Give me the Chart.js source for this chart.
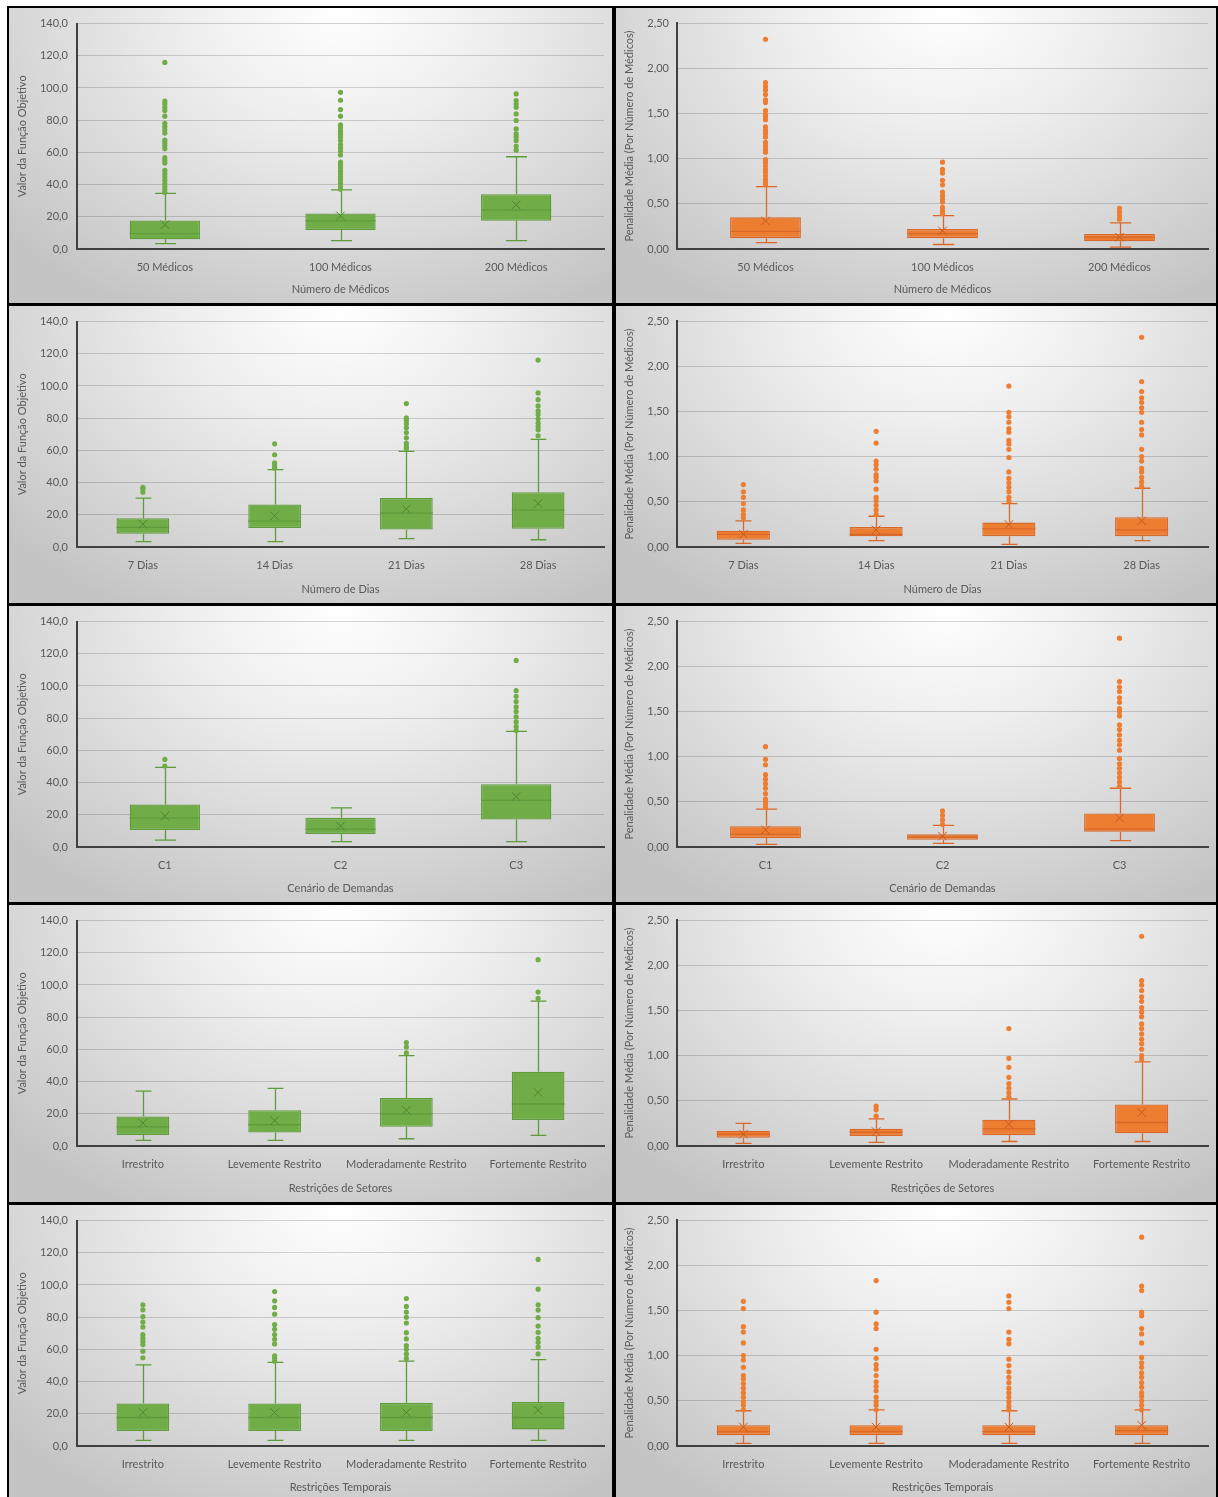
<!DOCTYPE html>
<html>
<head>
<meta charset="utf-8">
<script src="https://cdn.jsdelivr.net/npm/chart.js@4.4.0/dist/chart.umd.min.js"></script>
<style>
  html, body { margin: 0; background: #fff; overflow: hidden; }
  #frame { position: absolute; left: 7px; top: 6px; width: 1211px; height: 1495px; background: #000; }
  .panel {
    position: absolute;
    background: radial-gradient(ellipse 75% 115% at 55% 0%, #ffffff 0%, #eeeeee 35%, #d8d8d8 70%, #c4c4c4 100%);
  }
  .panel canvas { display: block; }
</style>
</head>
<body>
<div id="frame"></div>
<script>
// categorias
const catMedicos = ["50 Médicos", "100 Médicos", "200 Médicos"];
const catDias = ["7 Dias", "14 Dias", "21 Dias", "28 Dias"];
const catDemandas = ["C1", "C2", "C3"];
const catRestricoes = ["Irrestrito", "Levemente Restrito", "Moderadamente Restrito", "Fortemente Restrito"];

// eixos
const ticksFO = [0, 20, 40, 60, 80, 100, 120, 140];
const ticksPen = [0, 0.5, 1, 1.5, 2, 2.5];

// [mín, Q1, mediana, Q3, máx, média]
const boxFoMedicos = [[3.3, 6.0, 9.5, 17.7, 34.6, 15.1], [5.2, 11.8, 17.5, 22.1, 36.7, 20.6], [5.2, 17.5, 24.1, 34.0, 57.3, 27.4]];
const outFoMedicos = [
    [115.9, 91.8, 90.1, 88.0, 86.0, 82.5, 78.1, 76.1, 74.0, 72.0, 67.6, 66.0, 64.3, 62.3, 56.7, 55.1, 53.4, 48.9, 46.8, 44.7, 42.7, 40.6, 38.6, 36.9, 35.1],
    [97.3, 92.4, 86.6, 82.5, 77.1, 75.3, 73.2, 71.3, 69.5, 67.4, 64.9, 62.9, 60.8, 58.4, 54.0, 52.2, 50.5, 48.5, 46.8, 44.9, 42.9, 40.8, 38.8, 37.1],
    [96.3, 92.2, 90.1, 88.0, 83.9, 79.8, 74.6, 71.5, 69.5, 67.4, 63.9, 61.4]
];
const boxPenMedicos = [[0.07, 0.12, 0.195, 0.35, 0.69, 0.31], [0.05, 0.12, 0.17, 0.22, 0.37, 0.20], [0.02, 0.085, 0.13, 0.166, 0.29, 0.13]];
const outPenMedicos = [
    [2.32, 1.84, 1.80, 1.76, 1.71, 1.65, 1.62, 1.53, 1.49, 1.46, 1.43, 1.35, 1.31, 1.28, 1.24, 1.18, 1.14, 1.10, 1.07, 0.99, 0.96, 0.92, 0.88, 0.85, 0.81, 0.77, 0.74, 0.71],
    [0.96, 0.88, 0.84, 0.76, 0.71, 0.63, 0.59, 0.55, 0.52, 0.46, 0.42, 0.39],
    [0.45, 0.41, 0.37, 0.33]
];

const boxFoDias = [[3.3, 8.2, 12.2, 17.9, 30.3, 14.2], [3.3, 11.8, 16.1, 26.4, 48.0, 19.4], [5.2, 10.9, 21.0, 30.5, 59.4, 23.7], [4.5, 11.3, 22.9, 34.0, 66.8, 27.0]];
const outFoDias = [
    [37.1, 35.9, 34.0],
    [64.1, 57.3, 52.2, 50.5, 48.9],
    [89.1, 80.2, 78.6, 76.5, 74.0, 71.1, 67.8, 64.5, 62.5, 61.2],
    [116.1, 95.7, 91.5, 87.6, 84.5, 82.3, 79.6, 76.9, 74.8, 72.8, 69.1]
];
const boxPenDias = [[0.04, 0.08, 0.14, 0.18, 0.29, 0.14], [0.07, 0.12, 0.14, 0.22, 0.34, 0.19], [0.03, 0.12, 0.20, 0.27, 0.48, 0.25], [0.07, 0.12, 0.19, 0.33, 0.65, 0.29]];
const outPenDias = [
    [0.69, 0.61, 0.55, 0.48, 0.41, 0.36, 0.32],
    [1.28, 1.15, 0.95, 0.91, 0.86, 0.80, 0.77, 0.73, 0.64, 0.55, 0.51, 0.46, 0.41, 0.36],
    [1.78, 1.49, 1.44, 1.38, 1.31, 1.27, 1.18, 1.14, 1.08, 0.99, 0.83, 0.76, 0.71, 0.66, 0.61, 0.55, 0.51],
    [2.32, 1.83, 1.72, 1.65, 1.60, 1.54, 1.49, 1.38, 1.30, 1.24, 1.08, 1.00, 0.95, 0.87, 0.83, 0.77, 0.72, 0.67]
];

const boxFoDemandas = [[4.3, 10.5, 17.9, 26.4, 49.5, 19.2], [3.3, 8.0, 11.1, 18.1, 24.3, 13.0], [3.3, 17.1, 28.9, 39.0, 71.8, 31.3]];
const outFoDemandas = [
    [54.4, 50.3],
    [],
    [115.9, 97.1, 93.6, 90.3, 87.0, 84.1, 80.8, 77.7, 74.8, 72.4]
];
const boxPenDemandas = [[0.03, 0.10, 0.14, 0.23, 0.42, 0.19], [0.04, 0.08, 0.11, 0.14, 0.24, 0.12], [0.07, 0.17, 0.20, 0.37, 0.65, 0.32]];
const outPenDemandas = [
    [1.11, 0.97, 0.91, 0.80, 0.75, 0.70, 0.65, 0.59, 0.53, 0.50, 0.47, 0.44],
    [0.40, 0.35, 0.30, 0.25],
    [2.31, 1.83, 1.77, 1.72, 1.65, 1.60, 1.53, 1.50, 1.45, 1.35, 1.30, 1.24, 1.18, 1.13, 1.07, 0.98, 0.92, 0.87, 0.82, 0.77, 0.72, 0.67]
];

const boxFoSetores = [[3.5, 6.8, 11.9, 18.3, 34.1, 14.2], [3.5, 8.4, 13.2, 22.2, 35.8, 15.8], [4.5, 11.9, 19.9, 29.8, 56.1, 22.2], [6.6, 16.2, 26.1, 46.1, 90.0, 33.3]];
const outFoSetores = [
    [],
    [],
    [64.3, 61.5, 57.8],
    [115.7, 95.6, 91.7]
];
const boxPenSetores = [[0.03, 0.09, 0.13, 0.17, 0.25, 0.13], [0.04, 0.11, 0.15, 0.19, 0.30, 0.16], [0.05, 0.12, 0.19, 0.29, 0.52, 0.24], [0.05, 0.14, 0.26, 0.46, 0.93, 0.37]];
const outPenSetores = [
    [],
    [0.44, 0.40, 0.33],
    [1.30, 0.97, 0.87, 0.76, 0.69, 0.64, 0.59, 0.54],
    [2.32, 1.83, 1.78, 1.72, 1.65, 1.60, 1.53, 1.48, 1.43, 1.35, 1.30, 1.24, 1.18, 1.13, 1.07, 1.00, 0.96]
];

const boxFoTemporais = [[3.5, 9.3, 17.7, 26.4, 50.4, 20.8], [3.5, 9.3, 17.7, 26.4, 51.9, 20.8], [3.5, 9.3, 17.7, 26.8, 52.7, 20.8], [3.5, 10.3, 17.7, 27.4, 53.7, 22.2]];
const outFoTemporais = [
    [87.7, 84.6, 80.3, 77.0, 73.9, 69.2, 67.1, 65.1, 63.0, 58.9, 54.8],
    [95.9, 90.2, 86.1, 81.9, 75.4, 72.5, 69.2, 66.3, 63.4, 56.0, 54.6, 52.7],
    [91.6, 86.7, 83.2, 79.9, 76.4, 70.4, 66.5, 62.4, 60.1, 57.2, 54.4],
    [115.9, 97.4, 87.7, 84.4, 79.7, 74.5, 70.6, 66.9, 64.4, 61.4, 57.2]
];
const boxPenTemporais = [[0.03, 0.12, 0.16, 0.23, 0.39, 0.21], [0.03, 0.12, 0.16, 0.23, 0.40, 0.21], [0.03, 0.12, 0.16, 0.23, 0.39, 0.21], [0.03, 0.12, 0.17, 0.23, 0.40, 0.23]];
const outPenTemporais = [
    [1.60, 1.52, 1.32, 1.26, 1.14, 1.00, 0.95, 0.87, 0.78, 0.74, 0.69, 0.64, 0.59, 0.54, 0.49, 0.45, 0.40],
    [1.83, 1.48, 1.35, 1.30, 1.07, 0.97, 0.90, 0.85, 0.78, 0.71, 0.66, 0.61, 0.54, 0.49, 0.45, 0.40],
    [1.66, 1.59, 1.52, 1.26, 1.18, 1.13, 0.96, 0.89, 0.82, 0.76, 0.70, 0.64, 0.59, 0.54, 0.49, 0.44, 0.40],
    [2.31, 1.77, 1.72, 1.48, 1.44, 1.30, 1.24, 1.14, 0.98, 0.92, 0.87, 0.81, 0.76, 0.70, 0.65, 0.59, 0.55, 0.50, 0.45, 0.40]
];

// cores
const verde = { fill: "#70AD47", line: "#5E9B3B", mark: "#4E8530" };
const laranja = { fill: "#ED7D31", line: "#D9692A", mark: "#C05A1E" };

const FONT = "Lato, 'Noto Sans', sans-serif";
const TXT = "#595959";

// bigodes, tampas e mediana desenhados pelas escalas
const boxLines = {
    id: "boxLines",
    beforeDatasetsDraw(chart, args, opts) {
        const { ctx, scales: { y } } = chart;
        const meta = chart.getDatasetMeta(0);
        ctx.save();
        ctx.strokeStyle = opts.color;
        ctx.lineWidth = 1.3;
        opts.stats.forEach((s, i) => {
            const bar = meta.data[i];
            const cx = Math.round(bar.x) + 0.5;
            const cap = bar.width * 0.15;
            const yLo = y.getPixelForValue(s[0]), yQ1 = y.getPixelForValue(s[1]);
            const yQ3 = y.getPixelForValue(s[3]), yHi = y.getPixelForValue(s[4]);
            ctx.beginPath();
            ctx.moveTo(cx, yLo); ctx.lineTo(cx, yQ1);
            ctx.moveTo(cx, yQ3); ctx.lineTo(cx, yHi);
            ctx.moveTo(cx - cap, yLo); ctx.lineTo(cx + cap, yLo);
            ctx.moveTo(cx - cap, yHi); ctx.lineTo(cx + cap, yHi);
            ctx.stroke();
        });
        ctx.restore();
    },
    afterDatasetDraw(chart, args, opts) {
        if (args.index !== 0) return;
        const { ctx, scales: { y } } = chart;
        const meta = chart.getDatasetMeta(0);
        ctx.save();
        ctx.strokeStyle = opts.color;
        ctx.lineWidth = 1.3;
        opts.stats.forEach((s, i) => {
            const bar = meta.data[i];
            const ym = y.getPixelForValue(s[2]);
            ctx.beginPath();
            ctx.moveTo(bar.x - bar.width / 2, ym);
            ctx.lineTo(bar.x + bar.width / 2, ym);
            ctx.stroke();
        });
        ctx.restore();
    }
};

function fmt(dec) {
    return (v) => v.toFixed(dec).replace(".", ",");
}

function makeBoxChart(el, w, h, yW, labels, stats, outliers, ticks, dec, yTitle, xTitle, col) {
    const canvas = document.createElement("canvas");
    canvas.width = w;
    canvas.height = h;
    el.appendChild(canvas);

    const outPts = [];
    outliers.forEach((list, i) => list.forEach((v) => outPts.push({ x: labels[i], y: v })));

    new Chart(canvas.getContext("2d"), {
        type: "bar",
        data: {
            labels: labels,
            datasets: [
                {
                    type: "bar",
                    data: stats.map((s) => [s[1], s[3]]),
                    backgroundColor: col.fill,
                    borderColor: col.line,
                    borderWidth: 1.3,
                    borderSkipped: false,
                    barPercentage: 0.4,
                    categoryPercentage: 1,
                    order: 2
                },
                {
                    type: "line",
                    data: outPts,
                    showLine: false,
                    pointRadius: 2.6,
                    pointBorderWidth: 0,
                    pointBackgroundColor: col.fill,
                    order: 1
                },
                {
                    type: "line",
                    data: stats.map((s) => s[5]),
                    showLine: false,
                    pointStyle: "crossRot",
                    pointRadius: 6,
                    pointBorderWidth: 1,
                    pointBorderColor: col.mark,
                    order: 0
                }
            ]
        },
        options: {
            responsive: false,
            animation: false,
            events: [],
            layout: { padding: { top: 15, right: 8, left: 0, bottom: 0 } },
            plugins: {
                legend: { display: false },
                tooltip: { enabled: false },
                boxLines: { stats: stats, color: col.line }
            },
            scales: {
                x: {
                    grid: { display: false },
                    border: { display: true, color: "#404040", width: 2 },
                    ticks: { color: TXT, font: { family: FONT, size: 11 }, padding: 4 },
                    title: { display: true, text: xTitle, color: TXT, font: { family: FONT, size: 11 }, padding: { top: 0, bottom: 6.5 } },
                    afterFit: (s) => { s.height = h - 241; }
                },
                y: {
                    min: ticks[0],
                    max: ticks[ticks.length - 1],
                    afterBuildTicks: (s) => { s.ticks = ticks.map((v) => ({ value: v })); },
                    grid: { color: "rgba(0,0,0,0.16)", lineWidth: 1, drawTicks: false },
                    border: { display: true, color: "#404040", width: 2 },
                    ticks: { color: TXT, font: { family: FONT, size: 11 }, padding: yW === 68 ? 9 : 8, callback: fmt(dec) },
                    title: { display: true, text: yTitle, color: TXT, font: { family: FONT, size: 11 }, padding: { top: 7, bottom: 0 } },
                    afterFit: (s) => { s.width = yW; }
                }
            }
        },
        plugins: [boxLines]
    });
}

const cols = [{ left: 9, width: 603, yW: 68 }, { left: 616, width: 600, yW: 61 }];
const rows = [{ top: 8, height: 295 }, { top: 306, height: 297 }, { top: 606, height: 296 }, { top: 905, height: 297 }, { top: 1205, height: 296 }];

const yFO = "Valor da Função Objetivo";
const yPen = "Penalidade Média (Por Número de Médicos)";

const panels = [
    [catMedicos, boxFoMedicos, outFoMedicos, boxPenMedicos, outPenMedicos, "Número de Médicos"],
    [catDias, boxFoDias, outFoDias, boxPenDias, outPenDias, "Número de Dias"],
    [catDemandas, boxFoDemandas, outFoDemandas, boxPenDemandas, outPenDemandas, "Cenário de Demandas"],
    [catRestricoes, boxFoSetores, outFoSetores, boxPenSetores, outPenSetores, "Restrições de Setores"],
    [catRestricoes, boxFoTemporais, outFoTemporais, boxPenTemporais, outPenTemporais, "Restrições Temporais"]
];

panels.forEach((p, r) => {
    cols.forEach((c, k) => {
        const div = document.createElement("div");
        div.className = "panel";
        div.style.left = c.left + "px";
        div.style.top = rows[r].top + "px";
        div.style.width = c.width + "px";
        div.style.height = rows[r].height + "px";
        document.body.appendChild(div);
        if (k === 0) {
            makeBoxChart(div, c.width, rows[r].height, c.yW, p[0], p[1], p[2], ticksFO, 1, yFO, p[5], verde);
        } else {
            makeBoxChart(div, c.width, rows[r].height, c.yW, p[0], p[3], p[4], ticksPen, 2, yPen, p[5], laranja);
        }
    });
});
</script>
</body>
</html>
